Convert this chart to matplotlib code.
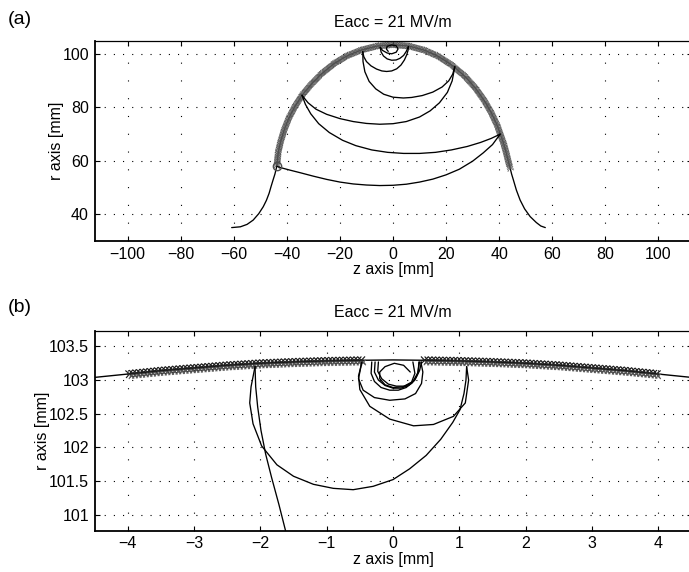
import numpy as np
import matplotlib
matplotlib.use("Agg")
import matplotlib.pyplot as plt
from matplotlib import patheffects as pe
from matplotlib.ticker import FormatStrFormatter

plt.rcParams['font.family'] = ['Liberation Sans', 'DejaVu Sans']
plt.rcParams['lines.scale_dashes'] = False

# ---------------- panel (a): whole cell, z / r in mm ----------------
# marked part of the cavity wall (equator region)
arc_a_z = [-43.8, -43.2, -42.3, -41.0, -39.3, -37.0, -34.3, -31.0, -27.0, -22.0,
           -17.0, -12.0, -6.0, 0.0, 6.0, 12.0, 17.0, 22.0, 27.0, 31.0, 34.3,
           37.0, 39.3, 40.4, 41.6, 42.6, 43.4, 44.2]
arc_a_r = [57.9, 63.5, 67.3, 71.5, 75.8, 80.2, 84.4, 88.3, 92.4, 96.4,
           99.3, 101.3, 102.8, 103.3, 102.8, 101.2, 99.0, 95.8, 91.6, 87.2, 82.6,
           78.0, 73.1, 70.0, 66.7, 63.2, 60.0, 57.0]
# iris regions
iris_l_z = [-43.8, -44.5, -45.2, -46.0, -46.7, -47.7, -48.9, -50.6, -52.7, -55.0, -57.5, -60.8]
iris_l_r = [57.9, 55.0, 52.8, 50.2, 47.8, 45.2, 42.8, 40.2, 37.8, 36.2, 35.3, 35.0]
iris_r_z = [44.2, 44.7, 45.4, 46.5, 47.9, 49.6, 51.7, 54.0, 55.7, 57.4]
iris_r_r = [57.0, 55.0, 52.7, 49.0, 45.3, 42.0, 39.1, 36.9, 35.6, 35.0]

# electron trajectory, hop by hop
ta1_z = [-43.8, -42, -39, -35, -30, -25, -20, -15, -10, -5, 0, 5, 10, 15, 20, 25, 30, 34, 37.5, 40.4]
ta1_r = [57.9, 57.3, 56.5, 55.5, 54.2, 53.0, 52.0, 51.3, 50.9, 50.7, 50.8, 51.2, 52.0, 53.1, 54.7,
         56.8, 59.8, 62.9, 66.0, 69.9]
ta2_z = [40.4, 37, 33, 28, 22, 16, 10, 4, -2, -8, -14, -19, -24, -28, -31, -33, -34.3]
ta2_r = [69.9, 68.3, 66.8, 65.3, 64.0, 63.1, 62.7, 62.7, 63.1, 64.0, 65.6, 67.6, 70.5, 73.8,
         77.5, 81.0, 84.4]
ta3_z = [-34.3, -32, -29, -25, -20, -15, -10, -5, 0, 5, 10, 14, 17.5, 20.5, 22.3, 23.3]
ta3_r = [84.4, 81.6, 79.2, 77.3, 75.7, 74.6, 73.9, 73.6, 73.8, 74.6, 76.3, 78.6, 81.6, 85.5, 89.8, 95.1]
ta4_z = [23.3, 22.5, 21, 18.5, 15, 11, 7, 3.9, 0, -3.5, -6.5, -9, -10.6, -11.3, -11.4]
ta4_r = [95.1, 92.3, 89.8, 87.5, 85.6, 84.3, 83.6, 83.4, 83.7, 84.8, 86.8, 89.6, 93.2, 97.0, 100.7]
ta5_z = [-11.4, -11.0, -10.0, -8.3, -6.2, -4.2, -2.4, -0.5, 1.4, 3.0, 4.3, 5.2, 5.7, 5.8]
ta5_r = [100.7, 98.8, 97.0, 95.4, 94.2, 93.5, 93.3, 93.5, 94.3, 95.7, 97.6, 99.6, 101.3, 102.6]
ta6_z = [5.8, 5.0, 4.0, 2.6, 1.2, -0.5, -2.2, -3.6, -4.5, -4.8]
ta6_r = [102.6, 100.8, 99.3, 98.2, 97.6, 97.5, 98.0, 99.1, 100.6, 102.3]
ta7_z = [-4.8, -4.0, -2.2, -0.5, 1.2, 1.9, 1.2, -0.5, -2.2, -2.5, -1.8]
ta7_r = [102.3, 101.2, 100.2, 99.9, 100.5, 101.7, 102.9, 103.2, 102.7, 101.7, 100.8]

# ---------------- panel (b): close-up of the equator ----------------
wall_b_z = [-4.5, -4.0, -3.5, -3.0, -2.5, -2.0, -1.5, -1.0, -0.45, 0.0,
            0.45, 1.0, 1.5, 2.0, 2.5, 3.0, 3.5, 4.0, 4.5]
wall_b_r = [103.04, 103.09, 103.14, 103.18, 103.22, 103.25, 103.27, 103.285, 103.295, 103.30,
            103.295, 103.285, 103.27, 103.25, 103.22, 103.18, 103.14, 103.09, 103.04]
mark_b_zmin, mark_b_zmax = 0.45, 4.0

tb1_z = [-1.62, -1.72, -1.83, -1.92, -1.99, -2.04, -2.07, -2.08]
tb1_r = [100.76, 101.15, 101.55, 101.9, 102.25, 102.6, 102.9, 103.2]
tb2_z = [-2.08, -2.14, -2.16, -2.11, -1.98, -1.75, -1.5, -1.2, -0.9, -0.6, -0.3, 0.0, 0.25,
         0.5, 0.72, 0.9, 1.01, 1.07, 1.10, 1.11]
tb2_r = [103.2, 102.9, 102.66, 102.35, 102.02, 101.74, 101.57, 101.45, 101.39, 101.37, 101.42,
         101.52, 101.68, 101.88, 102.12, 102.37, 102.56, 102.8, 103.0, 103.2]
tb3_z = [1.11, 1.14, 1.09, 0.91, 0.61, 0.31, -0.05, -0.35, -0.50, -0.52, -0.47]
tb3_r = [103.2, 103.0, 102.66, 102.46, 102.34, 102.32, 102.42, 102.61, 102.86, 103.06, 103.26]
tb4_z = [-0.47, -0.52, -0.45, -0.28, -0.05, 0.18, 0.34, 0.43, 0.45, 0.42]
tb4_r = [103.27, 103.02, 102.85, 102.74, 102.70, 102.72, 102.80, 102.95, 103.12, 103.27]
tb5_z = [-0.32, -0.33, -0.28, -0.18, -0.05, 0.08, 0.20, 0.30, 0.37, 0.40]
tb5_r = [103.27, 103.10, 102.98, 102.89, 102.85, 102.85, 102.89, 102.98, 103.10, 103.27]
tb6_z = [-0.27, -0.28, -0.22, -0.12, 0.00, 0.12, 0.24, 0.33, 0.38, 0.39]
tb6_r = [103.27, 103.12, 103.00, 102.92, 102.88, 102.88, 102.92, 103.00, 103.12, 103.27]
tb7_z = [-0.22, -0.23, -0.17, -0.07, 0.05, 0.17, 0.28, 0.35, 0.40, 0.43]
tb7_r = [103.27, 103.13, 103.02, 102.94, 102.91, 102.91, 102.95, 103.04, 103.14, 103.27]
tb8_z = [0.30, 0.33, 0.28, 0.15, 0.00, -0.12, -0.20, -0.20, -0.12, 0.02, 0.16, 0.26]
tb8_r = [103.27, 103.10, 102.97, 102.90, 102.89, 102.93, 103.02, 103.12, 103.20, 103.25, 103.22, 103.12]

title_text = "Eacc = 21 MV/m"
xt_a = [-100, -80, -60, -40, -20, 0, 20, 40, 60, 80, 100]
yt_a = [40, 60, 80, 100]
xt_b = [-4, -3, -2, -1, 0, 1, 2, 3, 4]
yt_b = [101, 101.5, 102, 102.5, 103, 103.5]

FS = 11.5


def cross_band(spacing, half_len, color, lw, offset=(0, 0)):
    """Dense x-marks along a path, drawn as ticks on both sides."""
    rel = half_len / spacing
    kw = dict(foreground=color, linewidth=lw)
    return [pe.TickedStroke(offset=offset, spacing=spacing, angle=a, length=rel, **kw)
            for a in (45, -135, 135, -45)]


def style_axes(ax, xt, yt, fmt):
    ax.set_xticks(xt)
    ax.set_yticks(yt)
    ax.yaxis.set_major_formatter(FormatStrFormatter(fmt))
    ax.tick_params(direction='in', length=3.8, width=0.8, top=True, right=True,
                   labelsize=FS, pad=4.0, colors='k')
    ax.xaxis.grid(True, color='k', linestyle=(0, (0.8, 12.0)), linewidth=0.8)
    ax.yaxis.grid(True, color='k', linestyle=(0, (0.8, 5.8)), linewidth=0.8)
    ax.set_axisbelow(True)
    for s in ('left', 'bottom'):
        ax.spines[s].set_linewidth(1.3)
    for s in ('top', 'right'):
        ax.spines[s].set_linewidth(0.9)
    ax.set_xlabel('z axis [mm]', fontsize=FS, labelpad=0.5)
    ax.set_ylabel('r axis [mm]', fontsize=FS, labelpad=-1)
    ax.set_title(title_text, fontsize=FS, pad=10)


fig = plt.figure(figsize=(6.89, 5.72), dpi=100)
ax_a = fig.add_axes([0.13716, 0.5787, 0.86647, 0.3497])
ax_b = fig.add_axes([0.13716, 0.0722, 0.86647, 0.3491])

line_kw = dict(color='k', linewidth=0.95, solid_capstyle='round')

# panel (a)
ax_a.plot(iris_l_z, iris_l_r, **line_kw)
ax_a.plot(iris_r_z, iris_r_r, **line_kw)
ax_a.plot(arc_a_z, arc_a_r, color='0.3', linewidth=0.8,
          path_effects=cross_band(1.2, 3.0, '0.32', 0.5) + [pe.Normal()])
for tz, tr in [(ta1_z, ta1_r), (ta2_z, ta2_r), (ta3_z, ta3_r), (ta4_z, ta4_r),
               (ta5_z, ta5_r), (ta6_z, ta6_r), (ta7_z, ta7_r)]:
    ax_a.plot(tz, tr, **line_kw)
ax_a.plot([ta1_z[0]], [ta1_r[0]], 'o', mfc='none', mec='0.3', ms=6, mew=1.0)
ax_a.set_xlim(-112.5, 112.5)
ax_a.set_ylim(30, 104.7)
style_axes(ax_a, xt_a, yt_a, '%g')

# panel (b)
wz = np.array(wall_b_z)
wr = np.array(wall_b_r)
ax_b.plot(wz, wr, color='k', linewidth=1.0)
for sel in [(wz <= -mark_b_zmin) & (wz >= -mark_b_zmax), (wz >= mark_b_zmin) & (wz <= mark_b_zmax)]:
    ax_b.plot(wz[sel], wr[sel], color='0.1', linewidth=0.9,
              path_effects=cross_band(2.6, 3.4, '0.1', 0.85)
              + cross_band(2.6, 2.4, '0.35', 0.75, offset=(1.3, -1.6)) + [pe.Normal()])
for tz, tr in [(tb1_z, tb1_r), (tb2_z, tb2_r), (tb3_z, tb3_r), (tb4_z, tb4_r),
               (tb5_z, tb5_r), (tb6_z, tb6_r), (tb7_z, tb7_r), (tb8_z, tb8_r)]:
    ax_b.plot(tz, tr, **line_kw)
ax_b.set_xlim(-4.5, 4.5)
ax_b.set_ylim(100.76, 103.73)
style_axes(ax_b, xt_b, yt_b, '%g')

fig.text(8 / 689, 1 - 19 / 572, '(a)', fontsize=14, va='center', ha='left')
fig.text(8 / 689, 1 - 307 / 572, '(b)', fontsize=14, va='center', ha='left')

fig.savefig('out.png', dpi=100)
